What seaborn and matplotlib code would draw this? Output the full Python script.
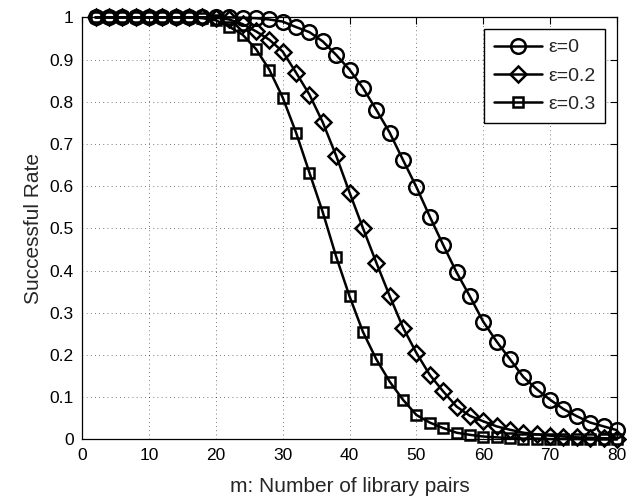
import numpy as np
import pandas as pd
import seaborn as sns
from matplotlib import pyplot as plt

# m: number of library pairs (markers every 2)
m_values = list(range(2, 81, 2))

rate_eps0 = [1.0, 1.0, 1.0, 1.0, 1.0, 1.0, 1.0, 1.0, 1.0, 1.0,
             1.0, 0.999, 0.998, 0.995, 0.99, 0.977, 0.965, 0.943, 0.911, 0.876,
             0.833, 0.781, 0.727, 0.662, 0.598, 0.528, 0.461, 0.396, 0.339, 0.279,
             0.232, 0.190, 0.148, 0.119, 0.094, 0.072, 0.055, 0.040, 0.031, 0.022]

rate_eps02 = [1.0, 1.0, 1.0, 1.0, 1.0, 1.0, 1.0, 1.0, 1.0, 0.999,
              0.995, 0.984, 0.967, 0.947, 0.919, 0.869, 0.817, 0.751, 0.672, 0.585,
              0.501, 0.419, 0.340, 0.265, 0.205, 0.153, 0.114, 0.078, 0.056, 0.043,
              0.031, 0.023, 0.016, 0.012, 0.009, 0.007, 0.005, 0.004, 0.003, 0.002]

rate_eps03 = [1.0, 1.0, 1.0, 1.0, 1.0, 1.0, 1.0, 1.0, 0.998, 0.993,
              0.978, 0.959, 0.925, 0.876, 0.810, 0.727, 0.632, 0.538, 0.433, 0.339,
              0.255, 0.190, 0.137, 0.094, 0.058, 0.040, 0.027, 0.016, 0.011, 0.007,
              0.005, 0.003, 0.002, 0.002, 0.001, 0.001, 0.001, 0.0, 0.0, 0.0]

series_labels = ['\u03b5=0', '\u03b5=0.2', '\u03b5=0.3']
series_markers = ['o', 'D', 's']
series_sizes = [10.5, 8.5, 7.5]

x_ticks = [0, 10, 20, 30, 40, 50, 60, 70, 80]
y_ticks = [0, 0.1, 0.2, 0.3, 0.4, 0.5, 0.6, 0.7, 0.8, 0.9, 1]
y_tick_labels = ['0', '0.1', '0.2', '0.3', '0.4', '0.5', '0.6', '0.7', '0.8', '0.9', '1']

sns.set_style('white')
plt.rcParams['font.family'] = ['Liberation Sans', 'DejaVu Sans']

fig = plt.figure(figsize=(6.27, 4.96), dpi=100)
ax = fig.add_axes([0.131, 0.114, 0.853, 0.851])

for rates, label, marker, size in zip([rate_eps0, rate_eps02, rate_eps03],
                                      series_labels, series_markers, series_sizes):
    df = pd.DataFrame({'m': m_values, 'rate': rates})
    sns.lineplot(data=df, x='m', y='rate', ax=ax, color='black', linewidth=1.8,
                 marker=marker, markersize=size, markerfacecolor='none',
                 markeredgecolor='black', markeredgewidth=1.8, label=label,
                 clip_on=False, zorder=3)

ax.set_xlim(0, 80)
ax.set_ylim(0, 1)
ax.set_xticks(x_ticks)
ax.set_yticks(y_ticks)
ax.set_yticklabels(y_tick_labels)
ax.tick_params(direction='in', length=5, width=0.8, top=True, right=True,
               labelsize=12.5, colors='black', pad=6)
ax.grid(True, linestyle=(0, (1, 4)), color='black', linewidth=0.6, alpha=0.7)
for s in ax.spines.values():
    s.set_color('black')
    s.set_linewidth(0.9)

ax.set_xlabel('m: Number of library pairs', fontsize=15, labelpad=10)
ax.set_ylabel('Successful Rate', fontsize=15, labelpad=5)

leg = ax.legend(loc='upper right', fontsize=14, handlelength=2.5, frameon=True,
                fancybox=False, edgecolor='black', borderaxespad=0.6,
                handletextpad=0.3, labelspacing=0.55, borderpad=0.5)
leg.get_frame().set_linewidth(1.0)
leg.get_frame().set_alpha(1)
leg.set_zorder(5)

fig.savefig('out.png', dpi=100)
plt.close(fig)
